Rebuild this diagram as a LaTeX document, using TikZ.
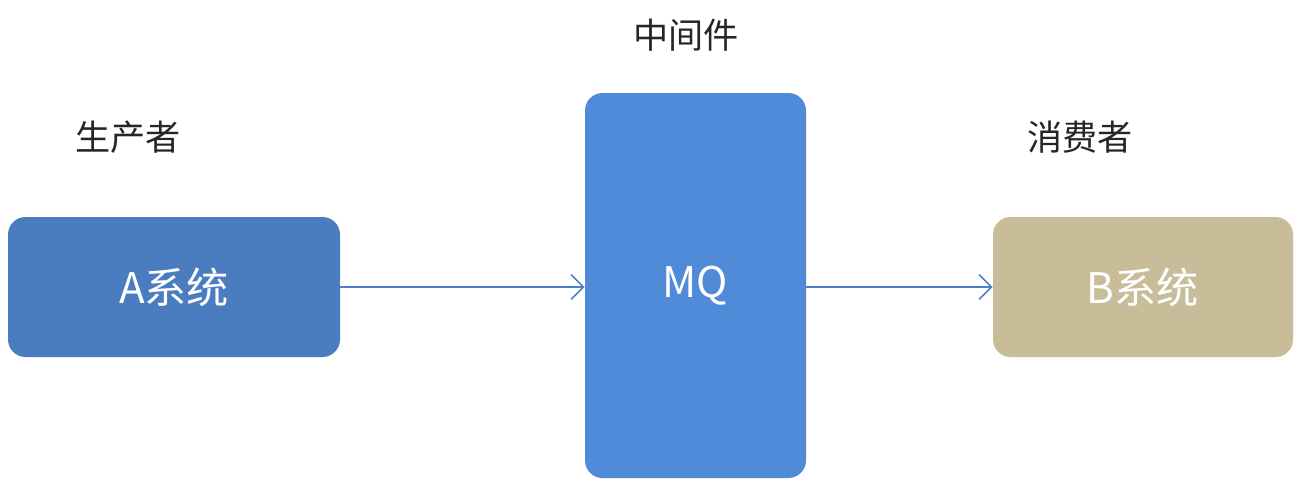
\documentclass[tikz,border=0pt]{standalone}
\usepackage{fontspec}
\setmainfont{Noto Sans CJK SC}
\begin{document}
\begin{tikzpicture}[x=0.02cm,y=-0.02cm,
  box/.style={rounded corners=0.35cm,inner sep=0,text=white,font=\fontsize{24}{28}\selectfont},
  lbl/.style={font=\fontsize{20}{24}\selectfont,text=black!85},
  conn/.style={draw={rgb,255:red,79;green,127;blue,200},line width=0.9pt,-{Straight Barb[length=7pt,width=14pt]}}]
\usetikzlibrary{arrows.meta}
\useasboundingbox[fill=white] (0,0) rectangle (1306,504);
\definecolor{ca}{HTML}{4A7CC0}
\definecolor{cm}{HTML}{4F8BD9}
\definecolor{cb}{HTML}{C8BD98}
\node[box,fill=ca,minimum width=332*0.02cm,minimum height=140*0.02cm] (a) at (174,287) {A系统};
\node[box,fill=cm,minimum width=221*0.02cm,minimum height=385*0.02cm] (mq) at (695.5,285.5) {MQ};
\node[box,fill=cb,minimum width=300*0.02cm,minimum height=140*0.02cm] (b) at (1143,287) {B系统};
\node[lbl] (la) at (128,137) {生产者};
\node[lbl] (lm) at (686,35) {中间件};
\node[lbl] (lb) at (1080,137) {消费者};
\draw[conn] (a.east) -- (mq.west|-a.east);
\draw[conn] (mq.east|-b.west) -- (b.west);
\end{tikzpicture}
\end{document}
